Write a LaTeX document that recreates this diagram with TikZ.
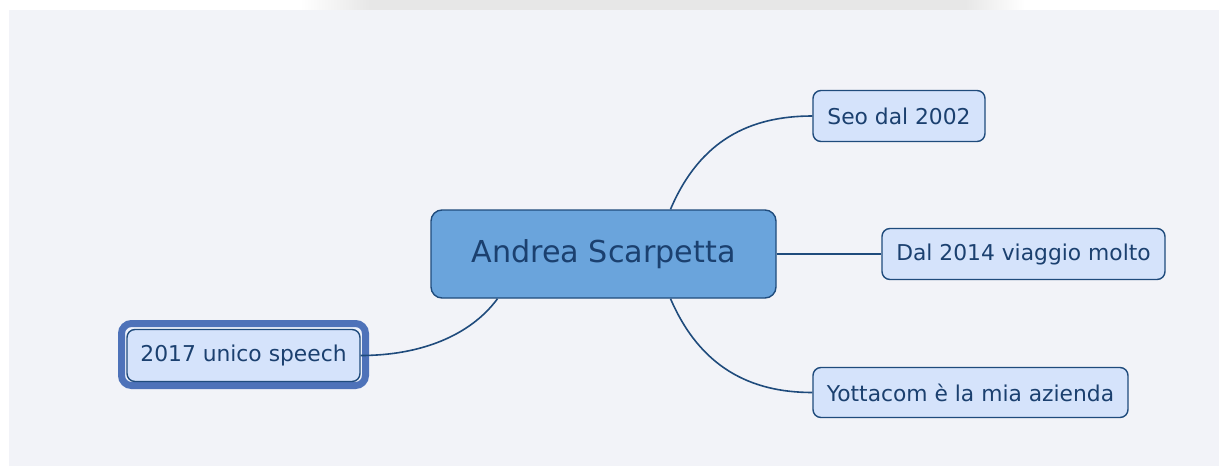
\documentclass[tikz,border=0pt]{standalone}
\usepackage{fontspec}
\setmainfont{DejaVu Sans}
\definecolor{panel}{HTML}{F2F3F8}
\definecolor{shadowgrey}{HTML}{E7E7E7}
\definecolor{linkblue}{HTML}{1F4B7C}
\definecolor{centralfill}{HTML}{6AA4DC}
\definecolor{leaffill}{HTML}{D5E3FB}
\definecolor{textblue}{HTML}{1B406F}
\definecolor{thickblue}{HTML}{4E72B9}
\definecolor{gapfill}{HTML}{EEF2FB}
\begin{document}
\begin{tikzpicture}[x=1pt,y=-1pt,
  central/.style={draw=linkblue, line width=1.4pt, fill=centralfill, rounded corners=11pt,
    minimum width=345pt, minimum height=88pt, inner sep=0pt, text=textblue,
    font=\fontsize{30.2}{34}\selectfont},
  leaf/.style={draw=linkblue, line width=1.4pt, fill=leaffill, rounded corners=8pt,
    minimum height=51pt, inner sep=0pt, text=textblue,
    font=\fontsize{21.8}{26}\selectfont},
  link/.style={draw=linkblue, line width=1.6pt}]
\useasboundingbox (0,0) rectangle (1219,466);
\fill[white] (0,0) rectangle (1219,466);
% top shadow
\shade[left color=white, right color=shadowgrey] (300,0) rectangle (370,10);
\fill[shadowgrey] (370,0) rectangle (965,10);
\shade[left color=shadowgrey, right color=white] (965,0) rectangle (1025,10);
% panel
\fill[panel] (9,10) rectangle (1219,466);
% nodes
\node[central] (c) at (603.5,254) {Andrea Scarpetta};
\node[leaf, minimum width=172pt] (seo) at (899,116) {Seo dal 2002};
\node[leaf, minimum width=283pt] (dal) at (1023.5,254) {Dal 2014 viaggio molto};
\node[leaf, minimum width=315pt, minimum height=50pt] (yotta) at (970.5,392.5) {Yottacom è la mia azienda};
\draw[thickblue, line width=7pt, fill=gapfill, rounded corners=10pt] (121.5,323.5) rectangle (365.5,385.5);
\node[leaf, minimum width=233pt, minimum height=52pt] (sp) at (243.5,355.5) {2017 unico speech};
% connectors
\draw[link] ([xshift=67pt]c.north) .. controls (700,140) and (750,116) .. (seo.west);
\draw[link] (c.east) -- (dal.west);
\draw[link] ([xshift=67pt]c.south) .. controls (700,367) and (750,392.5) .. (yotta.west);
\draw[link] ([xshift=-106pt]c.south) .. controls (470,336) and (420,355.5) .. (sp.east);
\end{tikzpicture}
\end{document}
